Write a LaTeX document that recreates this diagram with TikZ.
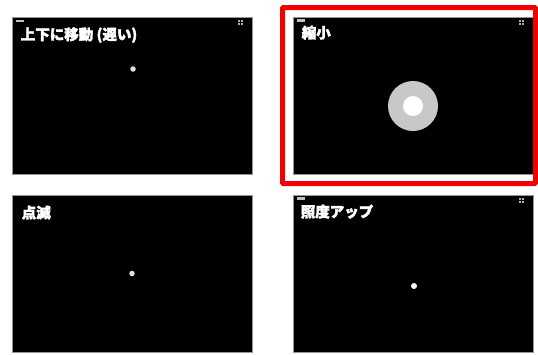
\documentclass[tikz,border=0pt]{standalone}
\usepackage{fontspec}
\newfontfamily\jp{Noto Sans CJK JP}[FakeBold=2.5]
\usepackage{tikz}
\usetikzlibrary{calc,positioning}
\definecolor{FrameRed}{RGB}{240, 0, 0}
\definecolor{EdgeGray}{RGB}{150, 150, 150}
\definecolor{RingGray}{RGB}{200, 200, 200}

\begin{document}
\begin{tikzpicture}[x=1pt, y=-1pt,
  panel/.style={draw=EdgeGray, line width=0.8pt, fill=black, minimum width=240pt,
                minimum height=157pt, inner sep=0pt},
  ttl/.style={anchor=west, inner sep=0pt, text=white, font=\jp\bfseries\fontsize{14.5}{14.5}\selectfont},
  tag/.style={fill=gray!50, minimum width=8pt, minimum height=2.5pt, inner sep=0pt},
  icon/.style={fill=gray!65, minimum size=2pt, inner sep=0pt},
  dot/.style={circle, fill=white!88!black, minimum size=5.5pt, inner sep=0pt}]
  \useasboundingbox (0,0) rectangle (538,354);
  \fill[white] (0,0) rectangle (538,354);
  % four preview screens
  \node[panel] (p1) at (132,96)    {};
  \node[panel] (p2) at (413,95.5)  {};
  \node[panel] (p3) at (132,273.5) {};
  \node[panel] (p4) at (413,273.5) {};
  % titles
  \node[ttl] (t1) at ($(p1.north west)+(9,18)$) {上下に移動 (遅い)};
  \node[ttl] (t2) at ($(p2.north west)+(9,16)$) {縮小};
  \node[ttl] (t3) at ($(p3.north west)+(10,18)$) {点滅};
  \node[ttl] (t4) at ($(p4.north west)+(8,17)$) {照度アップ};
  % small marks in the corners
  \foreach \p in {p1,p2,p4} {
    \node[tag] (\p tag) at ($(\p.north west)+(8,4)$) {};
    \foreach \dx/\dy in {0/0,3/0,0/3,3/3}
      \node[icon] (\p i\dx\dy) at ($(\p.north east)+(-13+\dx,4+\dy)$) {};
  }
  % moving objects
  \node[dot] (d1) at ($(p1)+(1,-27)$) {};
  \node[dot] (d3) at (p3) {};
  \node[dot, minimum size=6pt, fill=white] (d4) at ($(p4)+(1,12.5)$) {};
  \node[circle, fill=RingGray, minimum size=50pt, inner sep=0pt] (ring) at ($(p2)+(0,10.5)$) {};
  \node[circle, fill=white, minimum size=20pt, inner sep=0pt] (core) at (ring) {};
  % highlight
  \draw[FrameRed, line width=5pt, rounded corners=1pt] (282.5,7.5) rectangle (535.5,183.5);
\end{tikzpicture}
\end{document}
